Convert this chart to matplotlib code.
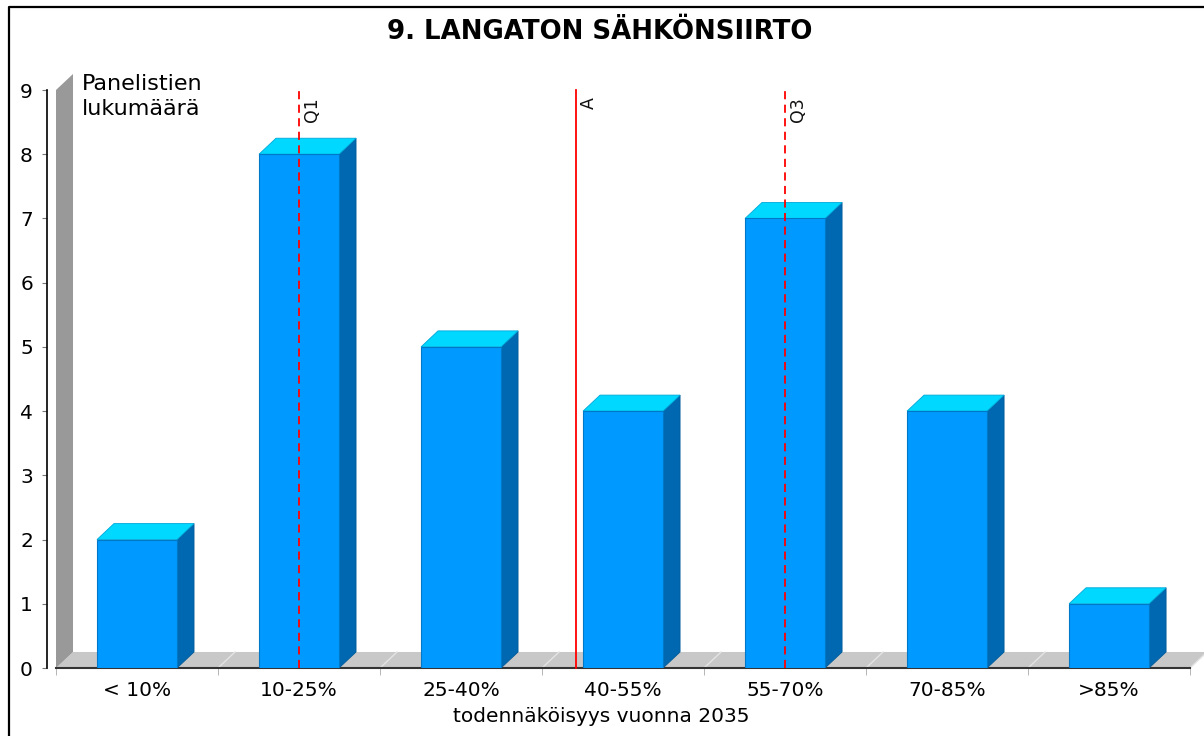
import matplotlib.pyplot as plt
from matplotlib.patches import Polygon, Rectangle
from matplotlib.lines import Line2D

categories = ['< 10%', '10-25%', '25-40%', '40-55%', '55-70%', '70-85%', '>85%']
counts = [2, 8, 5, 4, 7, 4, 1]
marker_labels = ['Q1', 'A', 'Q3']
marker_pos = [1.0, 2.71, 4.0]
marker_styles = ['--', '-', '--']

W, H = 1204, 736
fig = plt.figure(figsize=(W / 100, H / 100), dpi=100)
ax = fig.add_axes([47 / W, 68 / H, 1157 / W, 578 / H])
ax.set_xlim(-0.5556, 6.586)
ax.set_ylim(0, 9)

# depth of the fake 3D effect, in data units
dx = 17 / 162
dy = 16 / 64.2
bw = 0.494
front, top, side = '#0099ff', '#00d8ff', '#0068b0'

# floor and back wall
ax.add_patch(Polygon([(-0.5, 0), (-0.5 + dx, dy), (6.5 + dx, dy), (6.5, 0)],
                     closed=True, fc='#c8c8c8', ec='none', clip_on=False, zorder=1))
ax.add_patch(Polygon([(-0.5, 0), (-0.5, 9), (-0.5 + dx, 9 + dy), (-0.5 + dx, dy)],
                     closed=True, fc='#999999', ec='none', clip_on=False, zorder=1))
for k in range(1, 8):
    ax.plot([-0.5 + k, -0.5 + k + dx], [0, dy], color='#e4e4e4', lw=1, zorder=1.5, clip_on=False)
ax.plot([-0.5, 6.5], [0, 0], color='#333333', lw=1.5, zorder=2, clip_on=False)

for i, v in enumerate(counts):
    x0, x1 = i - bw / 2, i + bw / 2
    ax.add_patch(Polygon([(x1, 0), (x1 + dx, dy), (x1 + dx, v + dy), (x1, v)],
                         closed=True, fc=side, ec='#005a99', lw=0.6, zorder=3, clip_on=False))
    ax.add_patch(Polygon([(x0, v), (x0 + dx, v + dy), (x1 + dx, v + dy), (x1, v)],
                         closed=True, fc=top, ec='#00a8d8', lw=0.6, zorder=3, clip_on=False))
    ax.add_patch(Rectangle((x0, 0), bw, v, fc=front, ec='#0078c8', lw=0.8, zorder=4))

for lab, pos, ls in zip(marker_labels, marker_pos, marker_styles):
    ax.plot([pos, pos], [0, 9], color='red', lw=1.3, ls=ls, dashes=(4.5, 3) if ls == '--' else (None, None),
            zorder=5, clip_on=False)
    ax.annotate(lab, (pos, 9), xytext=(3, -5), textcoords='offset points', rotation=90,
                ha='left', va='top', fontsize=12.5, color='#111111')

for s in ['top', 'right', 'bottom']:
    ax.spines[s].set_visible(False)
ax.spines['left'].set_linewidth(1.2)

ax.set_yticks(range(10))
ax.tick_params(axis='y', length=3.6, color='#777777', pad=6.5, labelsize=14.5)
ax.set_xticks(range(len(categories)))
ax.set_xticklabels(categories)
ax.set_xticks([-0.5 + k for k in range(8)], minor=True)
ax.tick_params(axis='x', which='major', length=0, pad=9.5, labelsize=14.5)
ax.tick_params(axis='x', which='minor', length=5, color='#aaaaaa')

fig.text(0.498, 1 - 32 / H, '9. LANGATON SÄHKÖNSIIRTO', ha='center', va='center',
         fontsize=18.7, fontweight='bold')
fig.text(601 / W, 1 - 717 / H, 'todennäköisyys vuonna 2035', ha='center', va='center', fontsize=14.5)
fig.text(82 / W, 1 - 74 / H, 'Panelistien\nlukumäärä', ha='left', va='top', fontsize=16,
         linespacing=1.3)

# frame (only top and left edges are visible in the original crop)
fig.add_artist(Line2D([8.5 / W, 8.5 / W, 1.0], [0.0, 1 - 6.5 / H, 1 - 6.5 / H],
                      transform=fig.transFigure, color='black', lw=1.6))

fig.savefig('out.png', dpi=100)
